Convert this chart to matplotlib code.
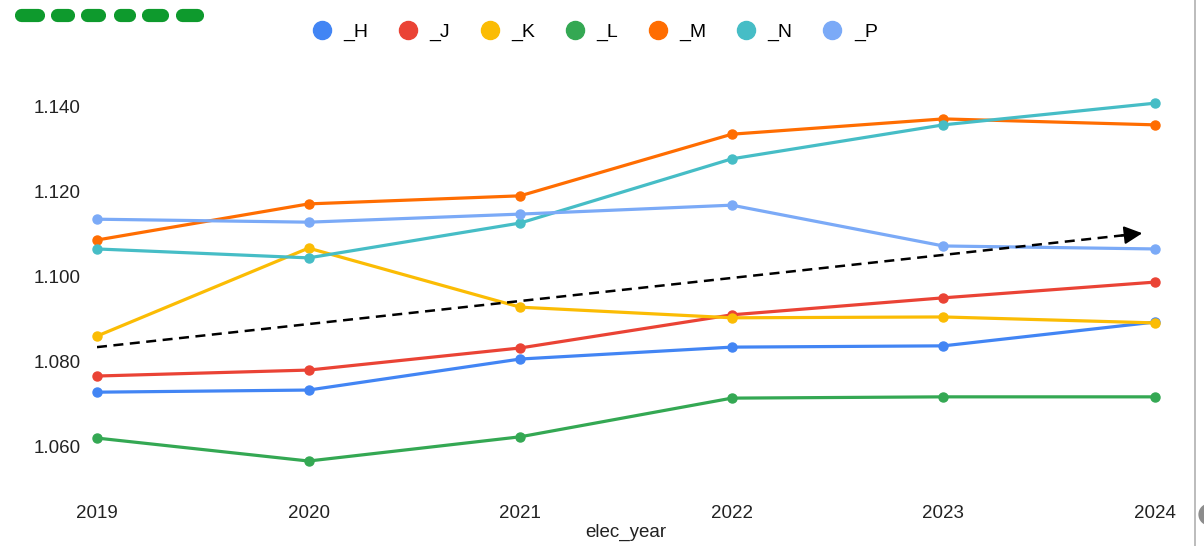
import matplotlib
matplotlib.use("Agg")
import matplotlib.pyplot as plt
from matplotlib.lines import Line2D

plt.rcParams['font.family'] = ['Liberation Sans', 'DejaVu Sans']

years = [2019, 2020, 2021, 2022, 2023, 2024]
series_names = ["_H", "_J", "_K", "_L", "_M", "_N", "_P"]
H = [1.0729, 1.0734, 1.0807, 1.0835, 1.0838, 1.0894]
J = [1.0767, 1.0781, 1.0833, 1.0911, 1.0951, 1.0988]
K = [1.0861, 1.1068, 1.0929, 1.0904, 1.0906, 1.0892]
L = [1.0621, 1.0567, 1.0624, 1.0715, 1.0718, 1.0718]
M = [1.1087, 1.1172, 1.1191, 1.1336, 1.1372, 1.1358]
N = [1.1066, 1.1045, 1.1127, 1.1278, 1.1358, 1.1409]
P = [1.1136, 1.1129, 1.1148, 1.1169, 1.1073, 1.1066]
series_values = [H, J, K, L, M, N, P]
colors = ["#4285F4", "#EA4335", "#FBBC04", "#34A853", "#FF6D01", "#46BDC6", "#7BAAF7"]

trend_x = [2019, 2023.94]
trend_y = [1.0835, 1.1103]

y_ticks = [1.060, 1.080, 1.100, 1.120, 1.140]
y_tick_labels = ["1.060", "1.080", "1.100", "1.120", "1.140"]

W, H_px = 1204, 546
fig = plt.figure(figsize=(W / 100, H_px / 100), dpi=100)
ax = fig.add_axes([97 / W, 1 - 489.5 / H_px, (1155 - 97) / W, (489.5 - 64.5) / H_px])

for name, vals, c in zip(series_names, series_values, colors):
    ax.plot(years, vals, color=c, lw=2.3, marker="o", ms=6.5, clip_on=False,
            solid_capstyle="round", label=name, zorder=3)

# dashed trend with arrow head
ax.plot([trend_x[0], trend_x[1] - 0.06], [trend_y[0], trend_y[1] - 0.06 * (trend_y[1] - trend_y[0]) / (trend_x[1] - trend_x[0])],
        color="black", lw=1.8, ls=(0, (4, 2.6)), zorder=4)
dx = trend_x[1] - trend_x[0]
dy = trend_y[1] - trend_y[0]
ax.annotate("", xy=(trend_x[1], trend_y[1]),
            xytext=(trend_x[1] - 0.02 * dx, trend_y[1] - 0.02 * dy),
            arrowprops=dict(arrowstyle="-|>,head_length=1.1,head_width=0.55",
                            color="black", lw=1.5, shrinkA=0, shrinkB=0),
            zorder=5)

ax.set_xlim(2019, 2024)
ax.set_ylim(1.05, 1.15)
ax.set_xticks(years)
ax.set_xticklabels([str(y) for y in years], fontsize=13.5, color="#222222")
ax.set_yticks(y_ticks)
ax.set_yticklabels(y_tick_labels, fontsize=13.5, color="#222222")
ax.tick_params(axis="both", length=0)
ax.tick_params(axis="x", pad=11.5)
ax.tick_params(axis="y", pad=12)
for s in ax.spines.values():
    s.set_visible(False)
ax.set_xlabel("elec_year", fontsize=13.5, color="#222222", labelpad=1)

handles = [Line2D([], [], ls="none", marker="o", ms=13, color=c, label=n)
           for n, c in zip(series_names, colors)]
fig.legend(handles=handles, loc="center", bbox_to_anchor=(0.494, 1 - 32 / H_px),
           ncol=7, frameon=False, fontsize=14, handlelength=1.0,
           handletextpad=0.6, columnspacing=1.55)

# green marker strokes in the top-left corner
dash_spans = [(16, 43), (52, 73), (82, 104), (115, 134), (143, 167), (177, 202)]
for x0, x1 in dash_spans:
    fig.add_artist(Line2D([(x0 + 5) / W, (x1 - 5) / W], [1 - 14.5 / H_px, 1 - 14.5 / H_px],
                          color="#0e9a2d", lw=9.5, solid_capstyle="round",
                          transform=fig.transFigure))

# window edge on the right
fig.add_artist(Line2D([1195 / W, 1195 / W], [0, 1], color="#b0b0b0", lw=1.2,
                      transform=fig.transFigure))
fig.add_artist(Line2D([1209 / W], [1 - 514 / H_px], ls="none", marker="o", ms=15,
                      color="#8c8c8c", transform=fig.transFigure))

fig.savefig("out.png", dpi=100, facecolor="white")
